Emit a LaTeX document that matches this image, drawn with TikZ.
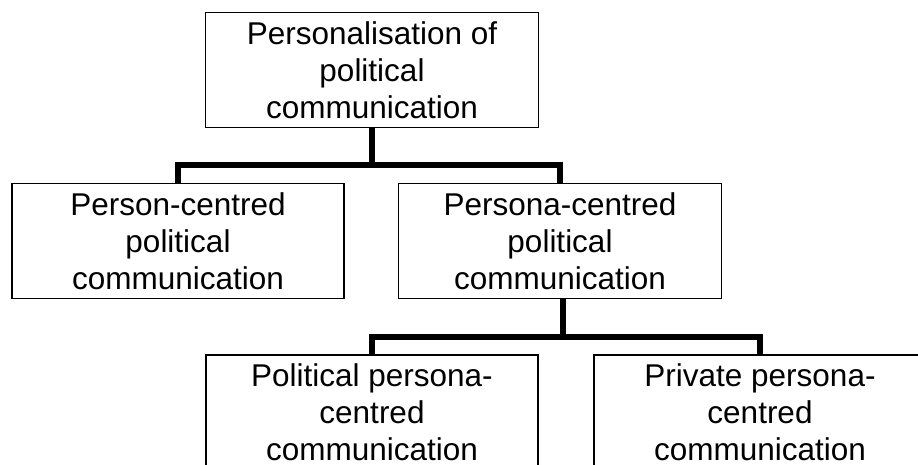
\documentclass[tikz,border=0pt]{standalone}
\usepackage{fontspec}
\setmainfont{Liberation Sans}
\begin{document}
\begin{tikzpicture}[x=1pt,y=-1pt,
  box/.style={draw=black,line width=1.3pt,rectangle,inner sep=0pt,align=center,
    font=\fontsize{31.5}{37}\selectfont,minimum height=115pt},
  conn/.style={line width=6pt,line join=miter,line cap=rect}]
\useasboundingbox (0,0) rectangle (918,464);
\clip (0,0) rectangle (918,464);
\node[box,minimum width=333pt] (top) at (372,70) {Personalisation of\\political\\communication};
\node[box,minimum width=332pt] (midL) at (178,241) {Person-centred\\political\\communication};
\node[box,minimum width=323pt] (midR) at (560,241) {Persona-centred\\political\\communication};
\node[box,minimum width=332pt] (botL) at (372,412.5) {Political persona-\\centred\\communication};
\node[box,minimum width=332pt] (botR) at (760,412.5) {Private persona-\\centred\\communication};
\coordinate (j1) at (372,165);
\coordinate (j2) at (563,337);
\draw[conn,line cap=butt] (top.south) -- (j1);
\draw[conn,line cap=butt] (midL.north) |- (j1) -| (midR.north);
\draw[conn,line cap=butt] (midR.south -| j2) -- (j2);
\draw[conn,line cap=butt] (botL.north) |- (j2) -| (botR.north);
\end{tikzpicture}
\end{document}
